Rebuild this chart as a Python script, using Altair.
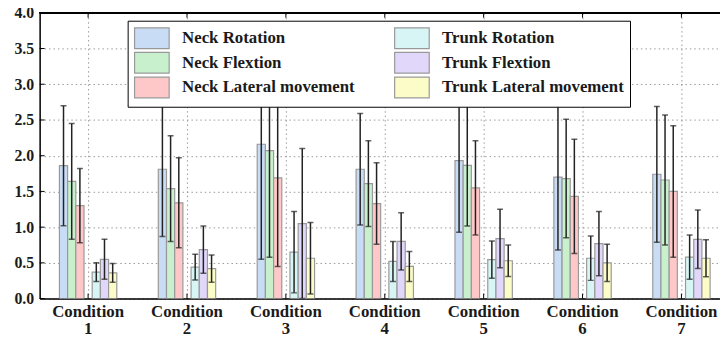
import altair as alt
import pandas as pd

conditions = ["1", "2", "3", "4", "5", "6", "7"]
series = ["Neck Rotation", "Neck Flextion", "Neck Lateral movement",
          "Trunk Rotation", "Trunk Flextion", "Trunk Lateral movement"]
colors = ["#c8dcf5", "#c8f0cd", "#ffc8c8", "#d7f5f5", "#e1d7fa", "#fcfcc8"]

neck_rot = [1.86, 1.81, 2.16, 1.81, 1.93, 1.70, 1.74]
neck_rot_err = [0.84, 0.94, 1.61, 0.78, 1.00, 1.02, 0.95]
neck_flex = [1.64, 1.54, 2.07, 1.61, 1.865, 1.68, 1.66]
neck_flex_err = [0.81, 0.74, 1.49, 0.60, 0.85, 0.83, 0.91]
neck_lat = [1.30, 1.34, 1.69, 1.33, 1.55, 1.43, 1.50]
neck_lat_err = [0.52, 0.63, 1.24, 0.57, 0.66, 0.80, 0.92]
trunk_rot = [0.37, 0.44, 0.65, 0.52, 0.545, 0.565, 0.58]
trunk_rot_err = [0.13, 0.18, 0.57, 0.28, 0.26, 0.31, 0.31]
trunk_flex = [0.55, 0.685, 1.05, 0.80, 0.84, 0.77, 0.83]
trunk_flex_err = [0.28, 0.33, 1.05, 0.40, 0.41, 0.45, 0.41]
trunk_lat = [0.36, 0.42, 0.565, 0.45, 0.53, 0.50, 0.565]
trunk_lat_err = [0.13, 0.19, 0.50, 0.21, 0.22, 0.26, 0.26]

y_ticks = [0.0, 0.5, 1.0, 1.5, 2.0, 2.5, 3.0, 3.5, 4.0]

means = [neck_rot, neck_flex, neck_lat, trunk_rot, trunk_flex, trunk_lat]
errs = [neck_rot_err, neck_flex_err, neck_lat_err, trunk_rot_err, trunk_flex_err, trunk_lat_err]

rows = []
for s, m_list, e_list in zip(series, means, errs):
    for c, m, e in zip(conditions, m_list, e_list):
        rows.append({"condition": c, "series": s, "mean": m,
                     "lo": max(m - e, 0), "hi": m + e})
df = pd.DataFrame(rows)
cond_df = pd.DataFrame({"condition": conditions})
tick_df = pd.DataFrame({"v": y_ticks})

FONT = "Liberation Serif"
offset_domain = series[:3] + [" "] + series[3:]

xscale = alt.Scale(domain=conditions, range=[0, 698], paddingInner=0.42, paddingOuter=0.2)
yscale = alt.Scale(domain=[0, 4], nice=False)
xoff = alt.XOffset("series:N", scale=alt.Scale(domain=offset_domain, paddingInner=0, paddingOuter=0))

xaxis = alt.Axis(title=None, labelExpr="['Condition', datum.label]",
                 labelFont=FONT, labelFontSize=17, labelFontWeight="bold",
                 labelColor="#1a1a1a", labelPadding=5, labelLineHeight=17,
                 labelAngle=0, labelBaseline="top", ticks=False,
                 domainColor="black", domainWidth=1.5,
                 grid=True, gridDash=[1.5, 3], gridColor="#999999", gridWidth=1)
yaxis = alt.Axis(title=None, values=y_ticks, format=".1f", labelOverlap=False,
                 labelFont=FONT, labelFontSize=16, labelFontWeight="bold",
                 labelColor="#1a1a1a", labelPadding=6, ticks=False,
                 domainColor="black", domainWidth=1.5,
                 grid=True, gridDash=[1.5, 3], gridColor="#999999", gridWidth=1)

X = alt.X("condition:N", scale=xscale, axis=xaxis)

base = alt.Chart(df)

bars = base.mark_bar(stroke="#999999", strokeWidth=1.2, clip=True).encode(
    x=X,
    xOffset=xoff,
    y=alt.Y("mean:Q", scale=yscale, axis=yaxis),
    color=alt.Color("series:N",
                    scale=alt.Scale(domain=series, range=colors),
                    legend=alt.Legend(orient="none", legendX=89, legendY=8, columns=2,
                                      title=None,
                                      symbolType="M-1,-1H2.33V1H-1Z", symbolSize=441,
                                      symbolStrokeColor="#999999", symbolStrokeWidth=1.2,
                                      symbolOpacity=1,
                                      labelFont=FONT, labelFontSize=17, labelFontWeight="bold",
                                      labelColor="#1a1a1a", labelOffset=26, labelLimit=400,
                                      columnPadding=37, rowPadding=-6.5, padding=6,
                                      fillColor="white", strokeColor="black")),
)

err_rule = base.mark_rule(color="#222222", strokeWidth=1.5, clip=True).encode(
    x=X, xOffset=xoff,
    y=alt.Y("lo:Q", scale=yscale, axis=yaxis), y2="hi:Q")
cap_lo = base.mark_tick(color="#222222", thickness=1.5, size=6, orient="horizontal", clip=True).encode(
    x=X, xOffset=xoff, y=alt.Y("lo:Q", scale=yscale, axis=yaxis))
cap_hi = base.mark_tick(color="#222222", thickness=1.5, size=6, orient="horizontal", clip=True).encode(
    x=X, xOffset=xoff, y=alt.Y("hi:Q", scale=yscale, axis=yaxis))

top_border = alt.Chart(cond_df).mark_rule(color="black", strokeWidth=1.5).encode(
    x=alt.value(0), x2=alt.value(698), y=alt.value(0))
top_ticks = alt.Chart(cond_df).mark_rule(color="black", strokeWidth=1).encode(
    x=X, y=alt.value(0), y2=alt.value(5))
bottom_ticks = alt.Chart(cond_df).mark_rule(color="black", strokeWidth=1).encode(
    x=X, y=alt.value(289), y2=alt.value(284))
left_ticks = alt.Chart(tick_df).mark_rule(color="black", strokeWidth=1).encode(
    y=alt.Y("v:Q", scale=yscale, axis=yaxis), x=alt.value(0), x2=alt.value(5))

chart = alt.layer(bars, err_rule, cap_lo, cap_hi, top_border, top_ticks, bottom_ticks, left_ticks).properties(
    width=688, height=289,
    autosize=alt.AutoSizeParams(type="none"),
    padding={"left": 32, "top": 3, "right": 0, "bottom": 38},
).configure_view(stroke="transparent").configure(background="white")

chart.save("out.html", embed_options={"renderer": "svg", "actions": False})
